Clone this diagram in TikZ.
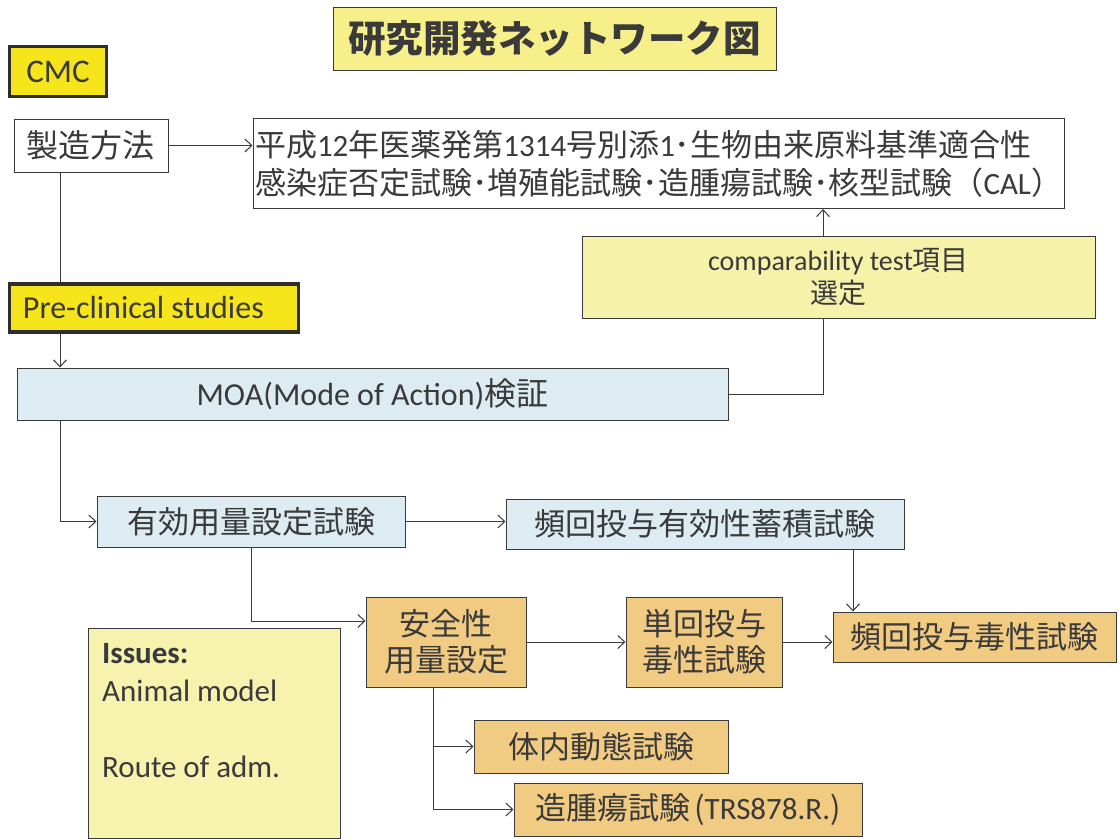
\documentclass[tikz,border=0pt]{standalone}
\usepackage{fontspec}
\setmainfont{Carlito}
\newfontfamily\jp{Noto Sans CJK JP}
\usetikzlibrary{arrows.meta}
\definecolor{titlefill}{HTML}{F7EF8A}
\definecolor{cmcfill}{HTML}{F5E51A}
\definecolor{compfill}{HTML}{F6F2AA}
\definecolor{bluefill}{HTML}{DDEBF3}
\definecolor{orangefill}{HTML}{F2CB82}
\definecolor{issuesfill}{HTML}{F7F3AE}
\definecolor{ink}{HTML}{3A3A3A}
\tikzset{
  box/.style={draw=ink, line width=1pt, inner sep=0pt, text=ink},
  thick box/.style={draw=ink!80!black, line width=3.5pt, inner sep=0pt, text=ink},
  conn/.style={draw=ink, line width=1pt},
  arr/.style={conn, -{Straight Barb[length=7pt,width=13pt,line width=1pt]}},
  jpfont/.style={font=\jp\fontsize{31}{36}\selectfont},
}
\begin{document}
\begin{tikzpicture}[x=1pt,y=-1pt]
\useasboundingbox (0,0) rectangle (1119,838);
\fill[white] (0,0) rectangle (1119,838);

% title
\node[box, fill=titlefill, minimum width=443, minimum height=63,
      font=\jp\bfseries\fontsize{37.5}{42}\selectfont] (title) at (554.5,38.5)
  {研究開発ネットワーク図};

% CMC
\node[thick box, fill=cmcfill, minimum width=97, minimum height=50,
      font=\fontsize{33}{36}\selectfont] (cmc) at (58,71.5) {CMC};

% manufacturing
\node[box, fill=white, minimum width=154, minimum height=53,
      font=\jp\fontsize{32}{36}\selectfont] (seizo) at (91,145.5) {製造方法};

\node[box, fill=white, minimum width=811, minimum height=90, align=left,
      font=\fontsize{31}{38}\selectfont] (big) at (658.5,163.5)
  {{\jp 平成}12{\jp 年医薬発第}1314{\jp 号別添}1{\jp ･生物由来原料基準適合性}\\
   {\jp 感染症否定試験･増殖能試験･造腫瘍試験･核型試験（}CAL{\jp ）}};

% comparability
\node[box, fill=compfill, minimum width=513, minimum height=82, align=center,
      font=\fontsize{28}{33}\selectfont] (comp) at (838.5,277)
  {comparability test{\jp 項目}\\{\jp 選定}};

% pre-clinical
\node[thick box, fill=cmcfill, minimum width=289, minimum height=48,
      font=\fontsize{32}{36}\selectfont] (pre) at (154,308)
  {\makebox[262pt][l]{Pre-clinical studies}};

% MOA
\node[box, fill=bluefill, minimum width=711, minimum height=52,
      font=\fontsize{32}{36}\selectfont] (moa) at (372.5,394)
  {MOA(Mode of Action){\jp 検証}};

% efficacy
\node[box, fill=bluefill, minimum width=308, minimum height=51, jpfont] (yuko) at (251,521.5)
  {有効用量設定試験};
\node[box, fill=bluefill, minimum width=398, minimum height=50, jpfont] (hyuko) at (705,524)
  {頻回投与有効性蓄積試験};

% safety
\node[box, fill=orangefill, minimum width=160, minimum height=90, align=center, jpfont] (anzen) at (446,642)
  {安全性\\用量設定};
\node[box, fill=orangefill, minimum width=156, minimum height=90, align=center, jpfont] (tankai) at (704,642)
  {単回投与\\毒性試験};
\node[box, fill=orangefill, minimum width=283, minimum height=50, jpfont] (hdoku) at (974.5,637)
  {頻回投与毒性試験};
\node[box, fill=orangefill, minimum width=254, minimum height=53, jpfont] (tainai) at (601,746.5)
  {体内動態試験};
\node[box, fill=orangefill, minimum width=348, minimum height=53,
      font=\fontsize{31}{36}\selectfont] (zoshu) at (688,809.5)
  {{\jp 造腫瘍試験\kern4pt(}TRS878.R.{\jp )}};

% issues
\node[box, fill=issuesfill, minimum width=252, minimum height=210] (issues) at (214,733) {};
\node[anchor=north west, align=left, inner sep=0pt, text=ink,
      font=\fontsize{31}{38}\selectfont] (issuestext) at (102,643)
  {\textbf{Issues:}\\Animal model\\[38pt]Route of adm.};

% helper coordinates
\coordinate (vleft) at (60,0);
\coordinate (vcomp) at (823,0);
\coordinate (vsafe) at (433,0);
\coordinate (vhy) at (853,0);

% connectors
\draw[arr] (seizo.east) -- (seizo.east -| big.west);
\draw[conn] (seizo.south -| vleft) -- (pre.north -| vleft);
\draw[arr] (pre.south -| vleft) -- (moa.north -| vleft);
\draw[arr] (moa.south -| vleft) |- (yuko.west);
\draw[conn] (moa.east) -| (comp.south -| vcomp);
\draw[arr] (comp.north -| vcomp) -- (big.south -| vcomp);
\draw[arr] (yuko.east) -- (yuko.east -| hyuko.west);
\draw[arr] (hyuko.south -| vhy) -- (hdoku.north -| vhy);
\draw[arr] (yuko.south) |- (anzen.west |- 0,621);
\draw[arr] (anzen.east) -- (tankai.west);
\draw[arr] (tankai.east) -- (tankai.east -| hdoku.west);
\draw[arr] (anzen.south -| vsafe) |- (tainai.west);
\draw[arr] (anzen.south -| vsafe) |- (zoshu.west);
\end{tikzpicture}
\end{document}
